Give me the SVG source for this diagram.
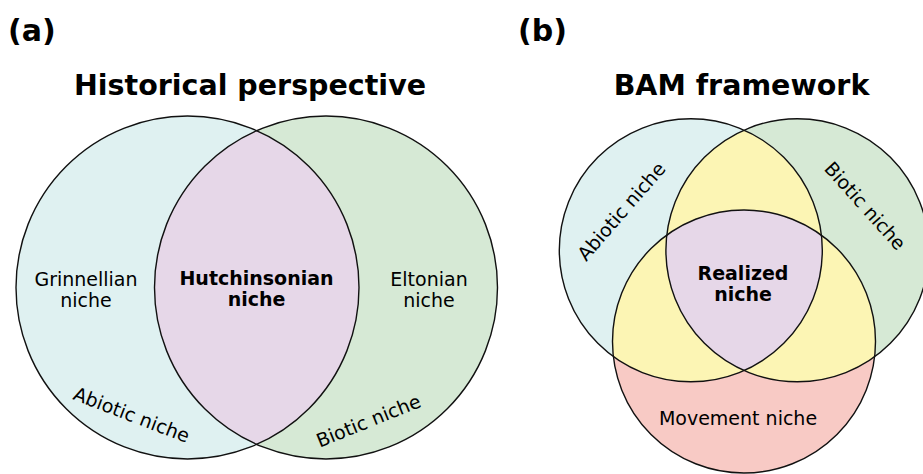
<svg xmlns="http://www.w3.org/2000/svg" width="923" height="474" viewBox="0 0 923 474">
  <style>
    text { font-family: "DejaVu Sans", "Liberation Sans", sans-serif; fill: #000; }
    .panel { font-size: 30px; font-weight: bold; }
    .title { font-size: 28.5px; font-weight: bold; text-anchor: middle; }
    .lbl { font-size: 19px; text-anchor: middle; }
    .bold { font-weight: bold; }
    .ring { fill: none; stroke: #111; stroke-width: 1.4; }
    .abiotic { fill: #dff1f1; }
    .biotic { fill: #d6e9d5; }
    .both { fill: #e6d7e8; }
    .pair { fill: #fcf5b4; }
    .move { fill: #f8cac5; }
  </style>
  <defs>
    <clipPath id="clipLeftA"><circle cx="187.5" cy="287.5" r="171.5"/></clipPath>
    <clipPath id="clipAb"><circle cx="690.8" cy="250.3" r="131.5"/></clipPath>
    <clipPath id="clipBi"><circle cx="797.4" cy="250.3" r="131.5"/></clipPath>
  </defs>

  <!-- panel captions -->
  <text class="panel" x="8" y="41">(a)</text>
  <text class="panel" x="518" y="41">(b)</text>
  <text class="title" x="250" y="95">Historical perspective</text>
  <text class="title" x="741.5" y="95">BAM framework</text>

  <!-- (a) historical perspective -->
  <g id="grinnellian">
    <circle class="abiotic" cx="187.5" cy="287.5" r="171.5"/>
  </g>
  <g id="eltonian">
    <circle class="biotic" cx="326" cy="287.5" r="171.5"/>
  </g>
  <g id="hutchinsonian">
    <circle class="both" cx="326" cy="287.5" r="171.5" clip-path="url(#clipLeftA)"/>
  </g>
  <g id="outlines-a">
    <circle class="ring" cx="187.5" cy="287.5" r="171.5"/>
    <circle class="ring" cx="326" cy="287.5" r="171.5"/>
  </g>
  <text class="lbl" x="86" y="286">Grinnellian</text>
  <text class="lbl" x="86" y="307">niche</text>
  <text class="lbl bold" x="256.5" y="285">Hutchinsonian</text>
  <text class="lbl bold" x="256.5" y="306">niche</text>
  <text class="lbl" x="429" y="286">Eltonian</text>
  <text class="lbl" x="429" y="307">niche</text>
  <text class="lbl" transform="translate(131.5 415) rotate(21)" y="6.5">Abiotic niche</text>
  <text class="lbl" transform="translate(368.5 421) rotate(-22)" y="6.5">Biotic niche</text>

  <!-- (b) BAM framework -->
  <g id="abiotic">
    <circle class="abiotic" cx="690.8" cy="250.3" r="131.5"/>
  </g>
  <g id="biotic">
    <circle class="biotic" cx="797.4" cy="250.3" r="131.5"/>
  </g>
  <g id="movement">
    <circle class="move" cx="744" cy="341.5" r="131.5"/>
  </g>
  <g id="overlaps">
    <circle class="pair" cx="797.4" cy="250.3" r="131.5" clip-path="url(#clipAb)"/>
    <circle class="pair" cx="744" cy="341.5" r="131.5" clip-path="url(#clipAb)"/>
    <circle class="pair" cx="744" cy="341.5" r="131.5" clip-path="url(#clipBi)"/>
  </g>
  <g id="realized" clip-path="url(#clipBi)">
    <circle class="both" cx="744" cy="341.5" r="131.5" clip-path="url(#clipAb)"/>
  </g>
  <g id="outlines-b">
    <circle class="ring" cx="690.8" cy="250.3" r="131.5"/>
    <circle class="ring" cx="797.4" cy="250.3" r="131.5"/>
    <circle class="ring" cx="744" cy="341.5" r="131.5"/>
  </g>
  <text class="lbl bold" x="743" y="280">Realized</text>
  <text class="lbl bold" x="743" y="301">niche</text>
  <text class="lbl" x="738" y="425">Movement niche</text>
  <text class="lbl" transform="translate(621.5 211.5) rotate(-49)" y="6.5">Abiotic niche</text>
  <text class="lbl" transform="translate(865 206) rotate(48)" y="6.5">Biotic niche</text>
</svg>
